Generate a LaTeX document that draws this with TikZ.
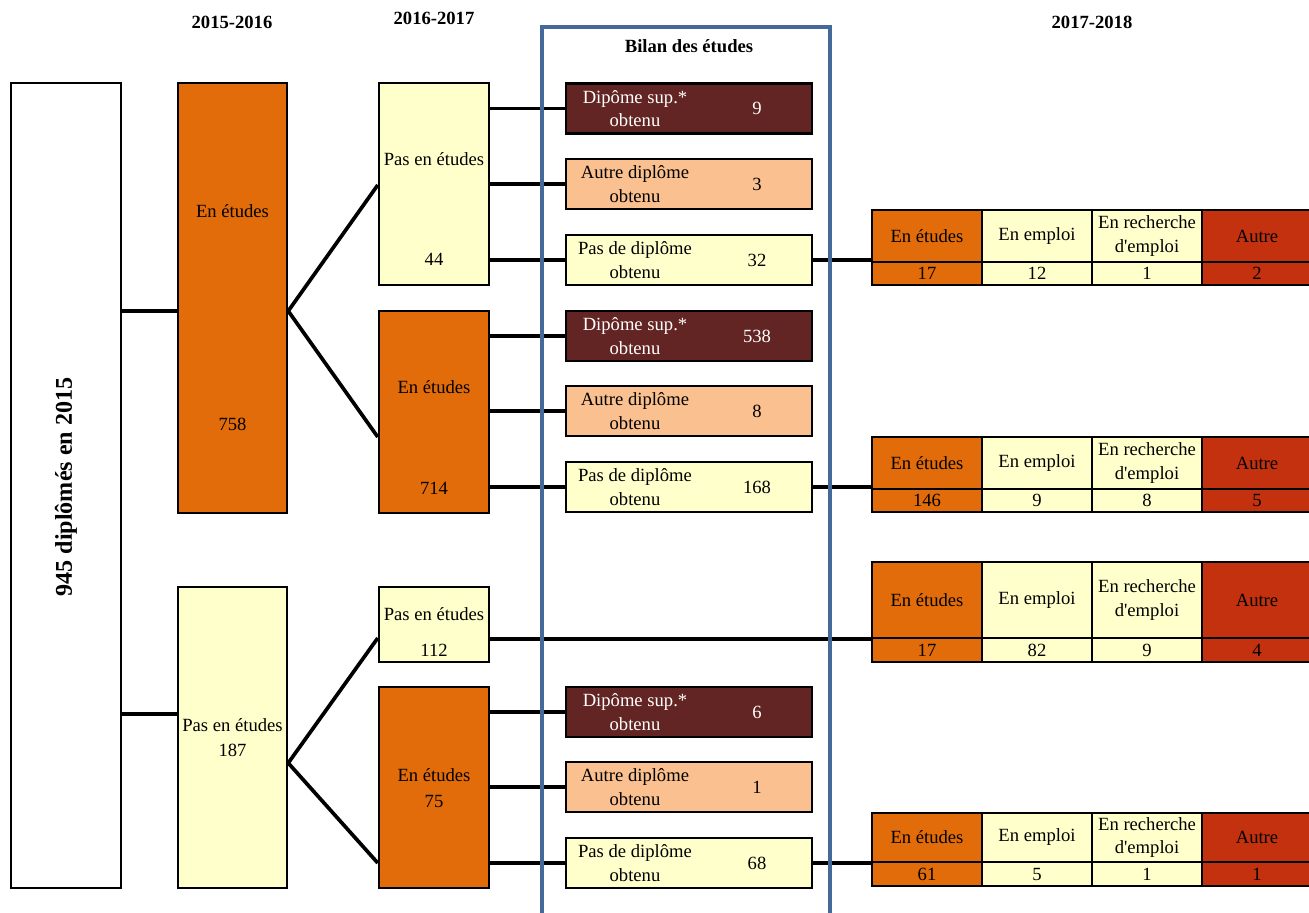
\documentclass[tikz,border=0pt]{standalone}
\usepackage{fontspec}
\setmainfont{Liberation Serif}

\definecolor{orangeE}{HTML}{E36C0A}
\definecolor{jaune}{HTML}{FFFFCC}
\definecolor{brun}{HTML}{632523}
\definecolor{peche}{HTML}{FAC090}
\definecolor{rouge}{HTML}{C3310F}
\definecolor{bleu}{HTML}{46699C}

\tikzset{
  boite/.style 2 args={draw, line width=1.4pt, inner sep=0pt, minimum width=#1*0.02cm, minimum height=#2*0.02cm},
  res/.style={boite={246}{50}},
  cell/.style={boite={110}{#1}, align=center},
  lien/.style={line width=2.1pt},
  txt/.style={inner sep=0pt, align=center},
  titre/.style={txt, font=\fontsize{10.6}{13}\selectfont\bfseries}
}

\begin{document}
\begin{tikzpicture}[x=0.02cm, y=-0.02cm, font=\fontsize{10.6}{13.4}\selectfont]
\useasboundingbox (0,0) rectangle (1309,913);
\clip (0,0) rectangle (1309,913);

% diplômés 2015
\node[boite={110}{805}] (tot) at (66,485.5) {};
\node[rotate=90, font=\fontsize{13.7}{16}\selectfont\bfseries] (totl) at (66,487) {945 diplômés en 2015};

% 2015-2016
\node[titre] (h1) at (232,22) {2015-2016};
\node[boite={109}{430}, fill=orangeE] (a1) at (232.5,298) {};
\node[txt] (a1l) at (232.5,211) {En études};
\node[txt] (a1n) at (232.5,424) {758};
\node[boite={109}{301}, fill=jaune] (a2) at (232.5,737.5) {};
\node[txt] (a2l) at (232.5,737.5) {Pas en études\\[1pt]187};

% 2016-2017
\node[titre] (h2) at (434,18) {2016-2017};
\node[boite={110}{202}, fill=jaune] (b1) at (434,184) {};
\node[txt] (b1l) at (434,159) {Pas en études};
\node[txt] (b1n) at (434,259) {44};
\node[boite={110}{202}, fill=orangeE] (b2) at (434,412) {};
\node[txt] (b2l) at (434,387) {En études};
\node[txt] (b2n) at (434,488) {714};
\node[boite={110}{75}, fill=jaune] (b3) at (434,624.5) {};
\node[txt] (b3l) at (434,614) {Pas en études};
\node[txt] (b3n) at (434,650) {112};
\node[boite={110}{201}, fill=orangeE] (b4) at (434,787.5) {};
\node[txt] (b4l) at (434,788) {En études\\[1pt]75};

% bilan des études
\node[titre] (h3) at (689,46) {Bilan des études};
\foreach \g/\y/\v in {1/108.5/9, 2/336/538, 3/712/6}{
  \node[res, fill=brun] (sup\g) at (689,\y) {};
  \node[txt, text=white] (sup\g l) at (635,\y) {Dipôme sup.*\\obtenu};
  \node[txt, text=white] (sup\g n) at (757,\y) {\v};
}
\foreach \g/\y/\v in {1/184/3, 2/411/8, 3/787/1}{
  \node[res, fill=peche] (aut\g) at (689,\y) {};
  \node[txt] (aut\g l) at (635,\y) {Autre diplôme\\obtenu};
  \node[txt] (aut\g n) at (757,\y) {\v};
}
\foreach \g/\y/\v in {1/260/32, 2/487/168, 3/863/68}{
  \node[res, fill=jaune] (pas\g) at (689,\y) {};
  \node[txt] (pas\g l) at (635,\y) {Pas de diplôme\\obtenu};
  \node[txt] (pas\g n) at (757,\y) {\v};
}

% 2017-2018
\node[titre] (h4) at (1092,22) {2017-2018};
\foreach \t/\yh/\hh/\yv/\hv/\va/\vb/\vc/\vd in
  {1/236/52/273.5/23/17/12/1/2, 2/463/52/500.5/23/146/9/8/5,
   3/600/76/650/24/17/82/9/4, 4/837.5/49/874/24/61/5/1/1}{
  \node[cell={\hh}, fill=orangeE] (etu\t) at (927,\yh) {En études};
  \node[cell={\hh}, fill=jaune] (emp\t) at (1037,\yh) {En emploi};
  \node[cell={\hh}, fill=jaune] (rec\t) at (1147,\yh) {En recherche\\d\textquotesingle emploi};
  \node[cell={\hh}, fill=rouge] (autr\t) at (1257,\yh) {Autre};
  \node[cell={\hv}, fill=orangeE] (vetu\t) at (927,\yv) {\va};
  \node[cell={\hv}, fill=jaune] (vemp\t) at (1037,\yv) {\vb};
  \node[cell={\hv}, fill=jaune] (vrec\t) at (1147,\yv) {\vc};
  \node[cell={\hv}, fill=rouge] (vautr\t) at (1257,\yv) {\vd};
}

% liens
\draw[lien] (tot.east |- 0,311) -- (a1.west |- 0,311);
\draw[lien] (tot.east |- 0,714) -- (a2.west |- 0,714);
\draw[lien] (b1.west |- 0,185) -- (a1.east |- 0,311) -- (b2.west |- 0,437);
\draw[lien] (b3.west |- 0,638) -- (a2.east |- 0,763) -- (b4.west |- 0,863);
\foreach \g/\b in {1/b1, 2/b2, 3/b4}{
  \draw[lien] (\b.east |- sup\g) -- (sup\g.west);
  \draw[lien] (\b.east |- aut\g) -- (aut\g.west);
  \draw[lien] (\b.east |- pas\g) -- (pas\g.west);
}
\draw[lien] (pas1.east) -- (pas1.east -| etu1.west);
\draw[lien] (pas2.east) -- (pas2.east -| etu2.west);
\draw[lien] (b3.east |- etu3.south) -- (etu3.south west);
\draw[lien] (pas3.east) -- (pas3.east -| etu4.west);

% cadre
\draw[bleu, line width=2pt] (542,930) -- (542,27) -- (830,27) -- (830,930);
\end{tikzpicture}
\end{document}
